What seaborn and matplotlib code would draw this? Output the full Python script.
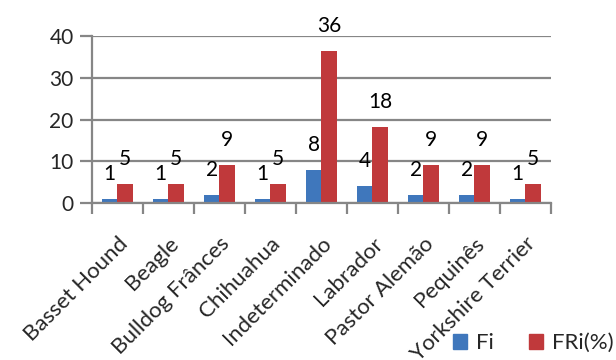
import pandas as pd
from matplotlib import pyplot as plt
import seaborn as sns

racas = ["Basset Hound", "Beagle", "Bulldog Frânces", "Chihuahua", "Indeterminado",
         "Labrador", "Pastor Alemão", "Pequinês", "Yorkshire Terrier"]
fi = [1, 1, 2, 1, 8, 4, 2, 2, 1]
fri = [4.5, 4.5, 9.1, 4.5, 36.4, 18.2, 9.1, 9.1, 4.5]
fi_labels = ["1", "1", "2", "1", "8", "4", "2", "2", "1"]
fri_labels = ["5", "5", "9", "5", "36", "18", "9", "9", "5"]


def grafico():
  df = pd.DataFrame({
    "raca": racas * 2,
    "valor": fi + fri,
    "serie": ["Fi"] * len(racas) + ["FRi(%)"] * len(racas),
  })

  sns.set_style("white")
  plt.rcParams["font.family"] = ["Lato", "DejaVu Sans"]

  fig = plt.figure(figsize=(6.16, 3.6), dpi=100)
  ax = fig.add_axes([0.149, 0.436, 0.745, 0.464])
  sns.barplot(data=df, x="raca", y="valor", hue="serie", order=racas,
              palette=["#3F77BC", "#C0393B"], saturation=1, width=0.6, gap=0,
              edgecolor="none", legend=False, ax=ax)

  # rótulos de dados
  for cont, labels in zip(ax.containers, [fi_labels, fri_labels]):
    for bar, lab in zip(cont, labels):
      ax.annotate(lab, (bar.get_x() + bar.get_width() / 2, bar.get_height()),
                  xytext=(0, 18), textcoords="offset points",
                  ha="center", va="center", fontsize=15, color="black")

  ax.set_ylim(0, 40)
  ax.set_yticks([0, 10, 20, 30, 40])
  ax.set_xlim(-0.5, len(racas) - 0.5)
  ax.grid(axis="y", color="#868686", linewidth=1.6)
  ax.set_axisbelow(True)
  for s in ["top", "right"]:
    ax.spines[s].set_visible(False)
  for s in ["left", "bottom"]:
    ax.spines[s].set_color("#868686")
    ax.spines[s].set_linewidth(1.6)

  ax.set_xticks(range(len(racas)))
  ax.set_xticklabels(racas, rotation=45, ha="right", rotation_mode="anchor", fontsize=16)
  ax.tick_params(axis="x", length=0, pad=22)
  ax.set_xticks([i - 0.5 for i in range(len(racas) + 1)], minor=True)
  ax.tick_params(axis="x", which="minor", length=8, width=1.6, color="#868686", direction="out", bottom=True)
  ax.tick_params(axis="y", length=9, width=1.6, color="#868686", direction="out", left=True,
                 labelsize=15, pad=4)
  ax.set_xlabel("")
  ax.set_ylabel("")

  handles = [plt.Rectangle((0, 0), 1, 1, color="#3F77BC"),
             plt.Rectangle((0, 0), 1, 1, color="#C0393B")]
  fig.legend(handles, ["Fi", "FRi(%)"], loc="center left", bbox_to_anchor=(0.735, 0.047),
             ncol=2, frameon=False, fontsize=16, handlelength=0.63, handleheight=0.63,
             handletextpad=0.4, columnspacing=1.6, borderaxespad=0, borderpad=0)

  plt.savefig("out.png", dpi=100)


if __name__ == "__main__":
  grafico()
